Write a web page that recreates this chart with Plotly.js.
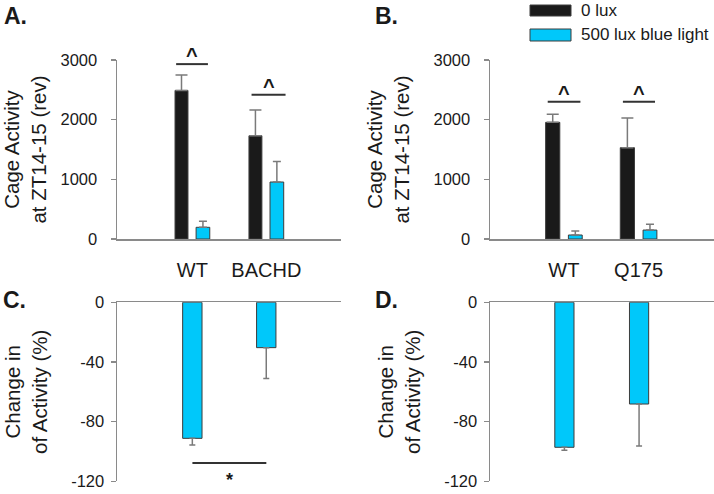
<!DOCTYPE html>
<html>
<head>
<meta charset="utf-8">
<script src="https://cdn.plot.ly/plotly-3.0.1.min.js"></script>
<style>
html,body{margin:0;padding:0;background:#fff;}
#chart{width:714px;height:494px;}
</style>
</head>
<body>
<div id="chart"></div>
<script>
// ---- data ----
var groupsA = ['WT', 'BACHD'];
var groupsB = ['WT', 'Q175'];
var seriesNames = ['0 lux', '500 lux blue light'];

// Panel A: cage activity (rev) at ZT14-15
var darkA = [2490, 1730];
var darkA_err = [260, 430];
var blueA = [196, 955];
var blueA_err = [100, 345];

// Panel B
var darkB = [1955, 1530];
var darkB_err = [135, 500];
var blueB = [67, 150];
var blueB_err = [67, 96];

// Panel C: change in activity (%)
var changeC = [-91.2, -30.4];
var changeC_err = [4.4, 20.6];

// Panel D
var changeD = [-97.2, -68.2];
var changeD_err = [2.0, 28.1];

var yTicksTop = [0, 1000, 2000, 3000];
var yTicksBottom = [-120, -80, -40, 0];

// ---- styles ----
var FONT = 'Liberation Sans, Arial, Helvetica, sans-serif';
var BLACK = '#1a1a1a';
var BLUE = '#00c8fa';
var EDGE = '#3c3c3c';
var AXIS = '#8a8a8a';
var ERR = '#7a7a7a';
var TXT = '#1a1a1a';

function P(px) { return 1 - px / 494; }

function barTrace(x, y, err, down, color, xa, ya, offset, width, ew, name) {
  return {
    type: 'bar', x: x, y: y, xaxis: xa, yaxis: ya,
    name: name, showlegend: false,
    offset: offset, width: width,
    marker: {color: color, line: {color: EDGE, width: 1}},
    error_y: {
      type: 'data', symmetric: false,
      array: down ? err.map(function(){return 0;}) : err,
      arrayminus: down ? err : err.map(function(){return 0;}),
      color: ERR, thickness: 1.5, width: ew
    },
    hoverinfo: 'skip'
  };
}

var traces = [
  barTrace(groupsA, darkA, darkA_err, false, BLACK, 'x', 'y', -0.235, 0.175, 6, seriesNames[0]),
  barTrace(groupsA, blueA, blueA_err, false, BLUE, 'x', 'y', 0.05, 0.185, 4, seriesNames[1]),
  barTrace(groupsB, darkB, darkB_err, false, BLACK, 'x2', 'y2', -0.245, 0.19, 6, seriesNames[0]),
  barTrace(groupsB, blueB, blueB_err, false, BLUE, 'x2', 'y2', 0.06, 0.185, 4, seriesNames[1]),
  barTrace(groupsA, changeC, changeC_err, true, BLUE, 'x3', 'y3', -0.132, 0.262, 3, seriesNames[1]),
  barTrace(groupsB, changeD, changeD_err, true, BLUE, 'x4', 'y4', -0.122, 0.257, 3, seriesNames[1])
];

var domAx = [117/714, 341/714];
var domBx = [490/714, 1];
var domTop = [P(239), P(60)];
var domBot = [P(481.3), P(302.3)];

function xAxis(dom, range, showLabels, anchor) {
  return {
    domain: dom, range: range, type: 'category', anchor: anchor,
    showline: true, linecolor: AXIS, linewidth: 1.5,
    ticks: '', showticklabels: showLabels, showgrid: false, zeroline: false,
    tickfont: {family: FONT, size: 20, color: TXT},
    ticklabelstandoff: 12, fixedrange: true
  };
}
function yAxis(dom, range, tv, title, standoff, anchor) {
  return {
    domain: dom, range: range, anchor: anchor,
    tickvals: tv, ticktext: tv.map(String),
    showline: true, linecolor: AXIS, linewidth: 1.5,
    ticks: 'outside', ticklen: 5, tickcolor: AXIS, tickwidth: 1.5,
    showgrid: false, zeroline: false,
    tickfont: {family: FONT, size: 16.5, color: TXT},
    ticklabelstandoff: standoff,
    title: {text: title, font: {family: FONT, size: 20.5, color: TXT}, standoff: 18},
    fixedrange: true
  };
}

var shapes = [];
var annotations = [];

function sig(xa, ya, x0, x1, y, sym, below, size, shift) {
  shapes.push({type: 'line', xref: xa, yref: ya, x0: x0, x1: x1, y0: y, y1: y,
    line: {color: '#333', width: 2}});
  annotations.push({xref: xa, yref: ya, x: (x0 + x1) / 2, y: y, text: '<b>' + sym + '</b>',
    showarrow: false, font: {family: FONT, size: size, color: TXT},
    yanchor: below ? 'top' : 'bottom', yshift: shift});
}
// significance marks (positions relative to category index)
sig('x', 'y', -0.22, 0.21, 2931, '^', false, 20, -4);
sig('x', 'y', 0.8, 1.26, 2417, '^', false, 20, -4);
sig('x2', 'y2', -0.217, 0.221, 2300, '^', false, 20, -4);
sig('x2', 'y2', 0.79, 1.22, 2300, '^', false, 20, -4);
sig('x3', 'y3', 0, 1, -107.7, '*', true, 18, -5);

// panel letters
function letter(t, x, y) {
  annotations.push({xref: 'paper', yref: 'paper', x: x / 714, y: P(y), text: '<b>' + t + '</b>',
    showarrow: false, xanchor: 'left', yanchor: 'middle',
    font: {family: FONT, size: 23, color: TXT}});
}
letter('A.', 2, 16);
letter('B.', 373, 16);
letter('C.', 1, 300);
letter('D.', 373, 300);

// legend drawn manually
var legColors = [BLACK, BLUE];
var legY = [[5, 16], [29, 41]];
for (var i = 0; i < 2; i++) {
  shapes.push({type: 'rect', xref: 'paper', yref: 'paper',
    x0: 530 / 714, x1: 571 / 714, y0: P(legY[i][1]), y1: P(legY[i][0]),
    fillcolor: legColors[i], line: {color: EDGE, width: 1}});
  annotations.push({xref: 'paper', yref: 'paper', x: 579 / 714, y: P((legY[i][0] + legY[i][1]) / 2),
    text: seriesNames[i], showarrow: false, xanchor: 'left', yanchor: 'middle',
    font: {family: FONT, size: 17, color: TXT}});
}

var layout = {
  width: 714, height: 494,
  margin: {l: 0, r: 0, t: 0, b: 0},
  paper_bgcolor: '#fff', plot_bgcolor: 'rgba(0,0,0,0)',
  showlegend: false, barmode: 'overlay',
  xaxis: xAxis(domAx, [-1.02, 2.01], true, 'y'),
  yaxis: yAxis(domTop, [0, 3000], yTicksTop, 'Cage Activity<br>at ZT14-15 (rev)', 10, 'x'),
  xaxis2: xAxis(domBx, [-0.99, 2.01], true, 'y2'),
  yaxis2: yAxis(domTop, [0, 3000], yTicksTop, 'Cage Activity<br>at ZT14-15 (rev)', 10, 'x2'),
  xaxis3: xAxis(domAx, [-1.02, 2.01], false, 'y3'),
  yaxis3: yAxis(domBot, [-120, 0], yTicksBottom, 'Change in<br>of Activity (%)', 3, 'x3'),
  xaxis4: xAxis(domBx, [-0.99, 2.01], false, 'y4'),
  yaxis4: yAxis(domBot, [-120, 0], yTicksBottom, 'Change in<br>of Activity (%)', 3, 'x4'),
  shapes: shapes, annotations: annotations
};
layout.xaxis3.side = 'top';
layout.xaxis4.side = 'top';

Plotly.newPlot('chart', traces, layout, {staticPlot: true, displayModeBar: false});
</script>
</body>
</html>
